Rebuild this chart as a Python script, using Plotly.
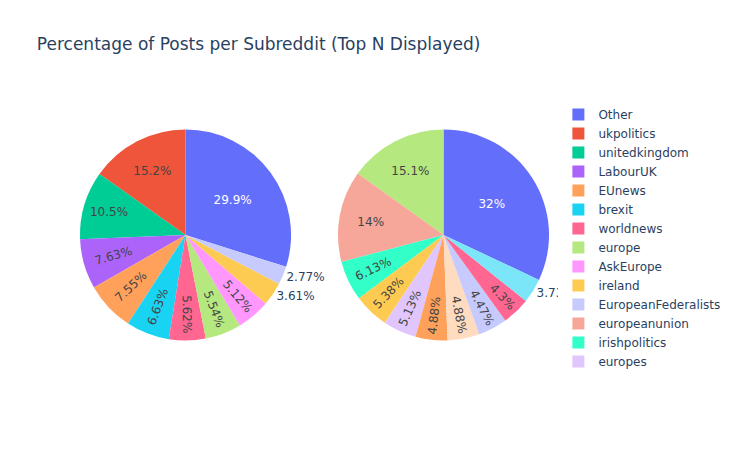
import plotly.graph_objects as go
from plotly.subplots import make_subplots

left_labels = ["Other", "ukpolitics", "unitedkingdom", "LabourUK", "EUnews", "brexit",
               "worldnews", "europe", "AskEurope", "ireland", "EuropeanFederalists"]
left_values = [29.88, 15.18, 10.47, 7.63, 7.55, 6.63, 5.62, 5.54, 5.12, 3.61, 2.77]

right_labels = ["Other", "europe", "europeanunion", "irishpolitics", "ireland", "europes",
                "EUnews", "eupolitics", "EuropeanFederalists", "worldnews", "EuropeanCulture"]
right_values = [32.0, 15.1, 14.0, 6.13, 5.38, 5.13, 4.88, 4.88, 4.47, 4.30, 3.73]

title_text = "Percentage of Posts per Subreddit (Top N Displayed)"

fig = make_subplots(rows=1, cols=2, specs=[[{"type": "domain"}, {"type": "domain"}]])
fig.add_trace(go.Pie(labels=left_labels, values=left_values, textinfo="percent"), row=1, col=1)
right_pos = ["auto"] * (len(right_values) - 1) + ["outside"]
fig.add_trace(go.Pie(labels=right_labels, values=right_values, textinfo="percent",
                     textposition=right_pos), row=1, col=2)

fig.update_layout(
    title=dict(text=title_text),
    width=737,
    height=450,
    template="plotly",
    font=dict(family="Verdana, 'DejaVu Sans', sans-serif"),
)

post = (
    "document.body.style.margin='0px';"
    "var s=document.createElement('style');"
    "s.textContent='*{pointer-events:none !important;} .modebar{display:none !important;}"
    " .scrollbar{display:none !important;}';"
    "document.head.appendChild(s);"
)
fig.write_html("out.html", config={"displayModeBar": False}, post_script=post)
